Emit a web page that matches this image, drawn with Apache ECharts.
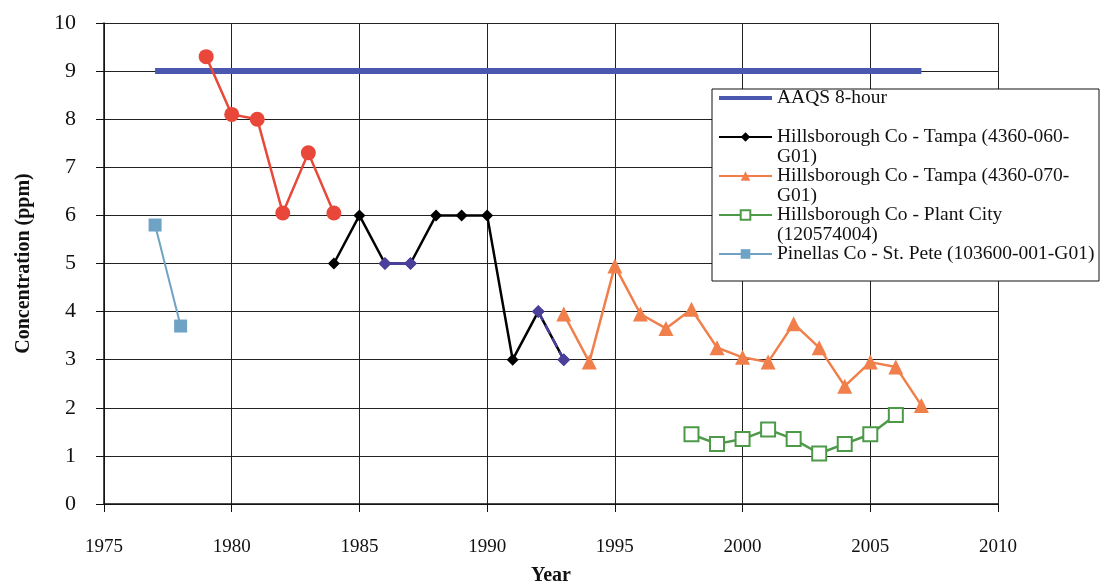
<!DOCTYPE html>
<html>
<head>
<meta charset="utf-8">
<script src="https://cdn.jsdelivr.net/npm/echarts@6/dist/echarts.min.js"></script>
<style>
  html, body { margin: 0; padding: 0; background: #fff; }
  #myChart { width: 1106px; height: 587px; }
</style>
</head>
<body>
<div id="myChart"></div>
<script>
// data
const aaqsYears = [1977, 2007];
const aaqsValues = [9, 9];

const redYears = [1979, 1980, 1981, 1982, 1983, 1984];
const redValues = [9.3, 8.1, 8.0, 6.05, 7.3, 6.05];

const tampa060Years = [1984, 1985, 1986, 1987, 1988, 1989, 1990, 1991, 1992, 1993];
const tampa060Values = [5, 6, 5, 5, 6, 6, 6, 3, 4, 3];

const purpleYearsA = [1986, 1987];
const purpleValuesA = [5, 5];
const purpleYearsB = [1992, 1993];
const purpleValuesB = [4, 3];

const tampa070Years = [1993, 1994, 1995, 1996, 1997, 1998, 1999, 2000, 2001, 2002, 2003, 2004, 2005, 2006, 2007];
const tampa070Values = [3.95, 2.95, 4.95, 3.95, 3.65, 4.05, 3.25, 3.05, 2.95, 3.75, 3.25, 2.45, 2.95, 2.85, 2.05];

const plantYears = [1998, 1999, 2000, 2001, 2002, 2003, 2004, 2005, 2006];
const plantValues = [1.45, 1.25, 1.35, 1.55, 1.35, 1.05, 1.25, 1.45, 1.85];

const pinellasYears = [1977, 1978];
const pinellasValues = [5.8, 3.7];

const legendNames = [
  'AAQS 8-hour',
  'Hillsborough Co - Tampa (4360-060-G01)',
  'Hillsborough Co - Tampa (4360-070-G01)',
  'Hillsborough Co - Plant City (120574004)',
  'Pinellas Co - St. Pete (103600-001-G01)'
];
// how the legend text wraps in the picture
const legendLines = {
  'AAQS 8-hour': ['AAQS 8-hour', ''],
  'Hillsborough Co - Tampa (4360-060-G01)': ['Hillsborough Co - Tampa (4360-060-', 'G01)'],
  'Hillsborough Co - Tampa (4360-070-G01)': ['Hillsborough Co - Tampa (4360-070-', 'G01)'],
  'Hillsborough Co - Plant City (120574004)': ['Hillsborough Co - Plant City', '(120574004)'],
  'Pinellas Co - St. Pete (103600-001-G01)': ['Pinellas Co - St. Pete (103600-001-G01)', '']
};

function pairs(xs, ys) {
  return xs.map((x, i) => [x, ys[i]]);
}

const serif = "'Liberation Serif', 'DejaVu Serif', serif";

let myChart = echarts.init(document.getElementById('myChart'));
myChart.setOption({
  animation: false,
  backgroundColor: '#fff',
  grid: { left: 104, right: 108, top: 23, bottom: 83, outerBoundsMode: 'none' },
  xAxis: {
    type: 'value', min: 1975, max: 2010, interval: 5,
    name: 'Year', nameLocation: 'middle', nameGap: 62,
    nameTextStyle: { fontFamily: serif, fontSize: 20, fontWeight: 'bold', color: '#111' },
    axisLine: { lineStyle: { color: '#111', width: 1.5 } },
    axisTick: { show: true, length: 8, lineStyle: { color: '#111' } },
    axisLabel: { fontFamily: serif, fontSize: 19, color: '#111', margin: 34, formatter: v => String(v) },
    splitLine: { show: true, lineStyle: { color: '#222', width: 1 } }
  },
  yAxis: {
    type: 'value', min: 0, max: 10, interval: 1,
    name: 'Concentration (ppm)', nameLocation: 'middle', nameGap: 70,
    nameTextStyle: { fontFamily: serif, fontSize: 20, fontWeight: 'bold', color: '#111' },
    axisLine: { show: true, lineStyle: { color: '#111', width: 1.5 } },
    axisTick: { show: true, length: 8, lineStyle: { color: '#111' } },
    axisLabel: { fontFamily: serif, fontSize: 22, color: '#111', margin: 28 },
    splitLine: { show: true, lineStyle: { color: '#222', width: 1 } }
  },
  legend: {
    data: legendNames.map((n, i) => i === 0 ? { name: n, lineStyle: { width: 4 } } : { name: n, lineStyle: { width: 2 } }),
    orient: 'vertical',
    left: 717, top: 68,
    padding: 0,
    itemGap: -21,
    itemWidth: 53, itemHeight: 12,
    formatter: name => '\n' + legendLines[name].join('\n'),
    textStyle: { fontFamily: serif, fontSize: 19.5, color: '#111', lineHeight: 20 }
  },
  graphic: [{
    type: 'rect', z: 3,
    shape: { x: 712, y: 89, width: 387, height: 192 },
    style: { fill: '#fff', stroke: '#111', lineWidth: 1 }
  }],
  series: [
    {
      name: 'AAQS 8-hour', type: 'line', data: pairs(aaqsYears, aaqsValues),
      showSymbol: false, symbol: 'circle',
      lineStyle: { color: '#4a58b0', width: 6 }, itemStyle: { color: 'rgba(0,0,0,0)' }
    },
    {
      name: 'Tampa (earlier record)', type: 'line', data: pairs(redYears, redValues),
      symbol: 'circle', symbolSize: 15,
      lineStyle: { color: '#e8473a', width: 2.5 }, itemStyle: { color: '#e8473a' }
    },
    {
      name: 'Hillsborough Co - Tampa (4360-060-G01)', type: 'line', data: pairs(tampa060Years, tampa060Values),
      symbol: 'diamond', symbolSize: 12,
      lineStyle: { color: '#000', width: 2.5 }, itemStyle: { color: '#000' }
    },
    {
      name: 'Tampa overlay A', type: 'line', data: pairs(purpleYearsA, purpleValuesA),
      symbol: 'diamond', symbolSize: 13,
      lineStyle: { color: '#4b3f9c', width: 3 }, itemStyle: { color: '#4b3f9c' }
    },
    {
      name: 'Tampa overlay B', type: 'line', data: pairs(purpleYearsB, purpleValuesB),
      symbol: 'diamond', symbolSize: 13,
      lineStyle: { color: '#4b3f9c', width: 2.5, type: 'dashed' }, itemStyle: { color: '#4b3f9c' }
    },
    {
      name: 'Hillsborough Co - Tampa (4360-070-G01)', type: 'line', data: pairs(tampa070Years, tampa070Values),
      symbol: 'triangle', symbolSize: 15,
      lineStyle: { color: '#f07f4c', width: 2.5 }, itemStyle: { color: '#f07f4c' }
    },
    {
      name: 'Hillsborough Co - Plant City (120574004)', type: 'line', data: pairs(plantYears, plantValues),
      symbol: 'emptyRect', symbolSize: 14,
      lineStyle: { color: '#4c9a48', width: 2.5 }, itemStyle: { color: '#4c9a48', borderWidth: 1.5 }
    },
    {
      name: 'Pinellas Co - St. Pete (103600-001-G01)', type: 'line', data: pairs(pinellasYears, pinellasValues),
      symbol: 'rect', symbolSize: 13,
      lineStyle: { color: '#6fa3c6', width: 2 }, itemStyle: { color: '#6fa3c6' }
    }
  ]
});
</script>
</body>
</html>
